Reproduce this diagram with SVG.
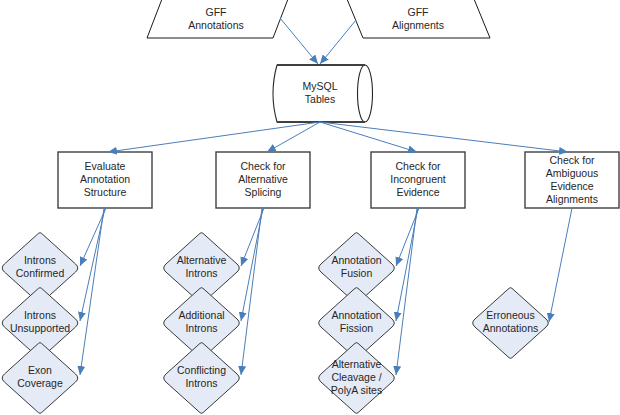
<svg xmlns="http://www.w3.org/2000/svg" width="620" height="415" viewBox="0 0 620 415">
<defs>
<style>
text{font-family:"Liberation Sans",Arial,sans-serif;font-size:10.5px;fill:#262626;text-anchor:middle}
.para{fill:#fff;stroke:#1a1a1a;stroke-width:1}
.box{fill:#fff;stroke:#404040;stroke-width:1.4}
.dia{fill:#e5ebf6;stroke:#3a3a3a;stroke-width:1}
.cyl{fill:#fff;stroke:#262626;stroke-width:1.1}
.cyledge{stroke:#404040;stroke-width:2;fill:none}
.conn line{stroke:#4a7ebb;stroke-width:1;marker-end:url(#ah)}
</style>
<marker id="ah" markerUnits="userSpaceOnUse" markerWidth="9" markerHeight="8" refX="9" refY="4" orient="auto">
<path d="M0,0 L9,4 L0,8 z" fill="#4a7ebb"/>
</marker>
<path id="dm" d="M1.49,-34.66 L35.54,-4.01 Q40,0 35.54,4.01 L1.49,34.66 Q0,36 -1.49,34.66 L-35.54,4.01 Q-40,0 -35.54,-4.01 L-1.49,-34.66 Q0,-36 1.49,-34.66 Z"/>
</defs>
<rect width="620" height="415" fill="#fff"/>

<g id="gff-annotations">
<polygon class="para" points="162,-1 288,-1 273,38 147,38"/>
<text x="216" y="16">GFF</text>
<text x="216" y="29">Annotations</text>
</g>
<g id="gff-alignments">
<polygon class="para" points="347,-1 474,-1 490,38 363,38"/>
<text x="418" y="16">GFF</text>
<text x="418" y="29">Alignments</text>
</g>

<g id="mysql">
<path class="cyl" d="M277,65 L365,65 A7.5,28.5 0 0 1 365,122 L277,122 Q269,93.5 277,65 Z"/>
<path class="cyl" d="M365,65 A7.5,28.5 0 0 0 365,122" fill="none"/>
<path class="cyledge" d="M277,65 L365,65 M277,122 L365,122"/>
<text x="320" y="90">MySQL</text>
<text x="320" y="103">Tables</text>
</g>

<g id="evaluate">
<rect class="box" x="58" y="152" width="94" height="56"/>
<text x="105" y="170">Evaluate</text>
<text x="105" y="183">Annotation</text>
<text x="105" y="196">Structure</text>
</g>
<g id="altsplicing">
<rect class="box" x="216" y="152" width="94" height="56"/>
<text x="263" y="170">Check for</text>
<text x="263" y="183">Alternative</text>
<text x="263" y="196">Splicing</text>
</g>
<g id="incongruent">
<rect class="box" x="371" y="152" width="94" height="56"/>
<text x="418" y="170">Check for</text>
<text x="418" y="183">Incongruent</text>
<text x="418" y="196">Evidence</text>
</g>
<g id="ambiguous">
<rect class="box" x="525" y="152" width="94" height="56"/>
<text x="572" y="164">Check for</text>
<text x="572" y="177">Ambiguous</text>
<text x="572" y="190">Evidence</text>
<text x="572" y="203">Alignments</text>
</g>

<g id="introns-confirmed">
<use href="#dm" class="dia" transform="translate(40,268)"/>
<text x="40" y="264">Introns</text>
<text x="40" y="277">Confirmed</text>
</g>
<g id="introns-unsupported">
<use href="#dm" class="dia" transform="translate(40,323)"/>
<text x="40" y="319">Introns</text>
<text x="40" y="332">Unsupported</text>
</g>
<g id="exon-coverage">
<use href="#dm" class="dia" transform="translate(40,378)"/>
<text x="40" y="374">Exon</text>
<text x="40" y="387">Coverage</text>
</g>

<g id="alternative-introns">
<use href="#dm" class="dia" transform="translate(201.5,268)"/>
<text x="201.5" y="264">Alternative</text>
<text x="201.5" y="277">Introns</text>
</g>
<g id="additional-introns">
<use href="#dm" class="dia" transform="translate(201.5,323)"/>
<text x="201.5" y="319">Additional</text>
<text x="201.5" y="332">Introns</text>
</g>
<g id="conflicting-introns">
<use href="#dm" class="dia" transform="translate(201.5,378)"/>
<text x="201.5" y="374">Conflicting</text>
<text x="201.5" y="387">Introns</text>
</g>

<g id="annotation-fusion">
<use href="#dm" class="dia" transform="translate(356.5,268)"/>
<text x="356.5" y="264">Annotation</text>
<text x="356.5" y="277">Fusion</text>
</g>
<g id="annotation-fission">
<use href="#dm" class="dia" transform="translate(356.5,323)"/>
<text x="356.5" y="319">Annotation</text>
<text x="356.5" y="332">Fission</text>
</g>
<g id="alt-cleavage">
<use href="#dm" class="dia" transform="translate(356.5,378)"/>
<text x="356.5" y="368">Alternative</text>
<text x="356.5" y="381">Cleavage /</text>
<text x="356.5" y="394">PolyA sites</text>
</g>

<g id="erroneous">
<use href="#dm" class="dia" transform="translate(510.5,323)"/>
<text x="510.5" y="319">Erroneous</text>
<text x="510.5" y="332">Annotations</text>
</g>

<g id="connectors" class="conn">
<line x1="280" y1="18" x2="318" y2="64"/>
<line x1="356" y1="20" x2="320" y2="64"/>
<line x1="320" y1="122" x2="108" y2="152"/>
<line x1="320" y1="122" x2="267" y2="152"/>
<line x1="320" y1="122" x2="417" y2="152"/>
<line x1="320" y1="122" x2="568" y2="152"/>
<line x1="106" y1="208" x2="80" y2="266"/>
<line x1="105" y1="208" x2="80" y2="321"/>
<line x1="104" y1="208" x2="80" y2="375"/>
<line x1="264" y1="208" x2="241" y2="266"/>
<line x1="263" y1="208" x2="241" y2="321"/>
<line x1="262" y1="208" x2="241" y2="375"/>
<line x1="419" y1="208" x2="396" y2="266"/>
<line x1="418" y1="208" x2="396" y2="321"/>
<line x1="417" y1="208" x2="396" y2="375"/>
<line x1="572" y1="208" x2="549" y2="322"/>
</g>
</svg>
